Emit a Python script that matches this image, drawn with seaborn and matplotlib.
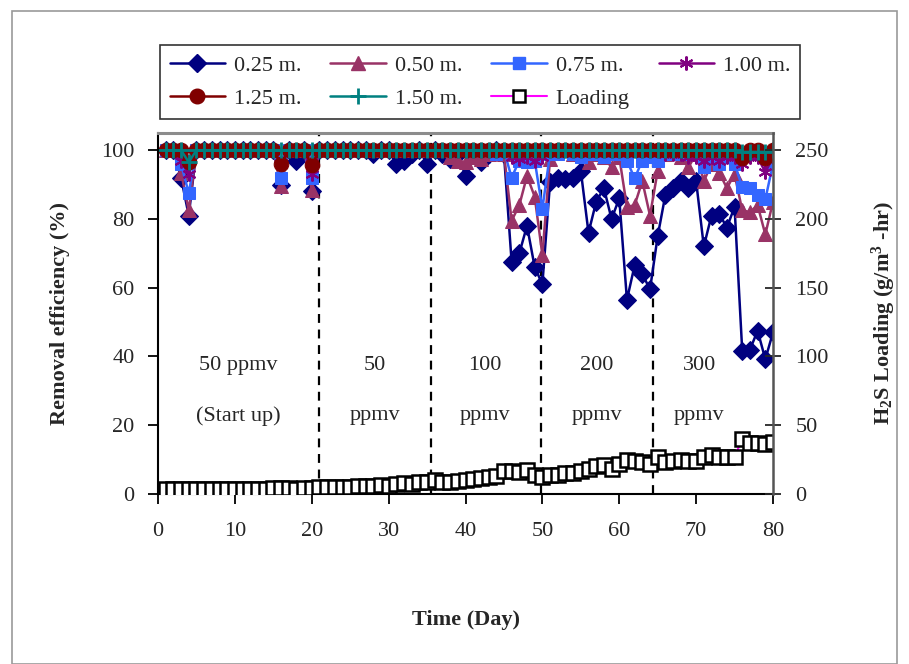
import numpy as np
import matplotlib
matplotlib.use("Agg")
import matplotlib.pyplot as plt
import seaborn as sns
from matplotlib.lines import Line2D
from matplotlib.patches import Rectangle

## DATA
days = np.arange(1, 81)

r025 = [100, 100, 92, 81, 100, 100, 100, 100, 100, 100,
        100, 100, 100, 100, 100, 90, 100, 97, 100, 88,
        100, 100, 100, 100, 100, 100, 100, 99, 100, 100,
        96, 97, 99, 100, 96, 100, 99, 97.5, 99, 92.5,
        99, 96.5, 99, 100, 99, 67.5, 70, 78, 66, 61,
        90.7, 92, 91.5, 92, 94, 76, 85, 89, 80, 86,
        56.5, 66.5, 64, 59.5, 75, 87, 89, 91, 89, 91,
        72, 81, 81.5, 77.5, 83.5, 41.5, 42, 47.5, 39.2, 47]
r050 = [100, 100, 93.5, 82.5, 100, 100, 100, 100, 100, 100,
        100, 100, 100, 100, 100, 89.5, 100, 100, 100, 88.5,
        100, 100, 100, 100, 100, 100, 100, 100, 100, 100,
        100, 100, 100, 100, 100, 100, 100, 98, 97, 96.5,
        98, 97.5, 99, 100, 99, 79.5, 84, 92.5, 86.5, 69.5,
        97.5, 100, 100, 99, 100, 96.5, 99, 98, 95, 98,
        83.5, 84, 91, 81, 94, 99, 100, 98, 95, 99,
        91, 96, 93.5, 89, 93, 82.5, 82, 84, 75.5, 85]
r075 = [100, 100, 96, 87.5, 100, 100, 100, 100, 100, 100,
        100, 100, 100, 100, 100, 92, 100, 100, 100, 92,
        100, 100, 100, 100, 100, 100, 100, 100, 100, 100,
        100, 100, 100, 100, 100, 100, 100, 100, 100, 100,
        100, 100, 100, 99, 100, 92, 97, 96.5, 97, 83,
        99, 99, 100, 99, 98, 99, 99, 98, 99, 99,
        97, 91.8, 97, 98, 97, 99, 99, 99, 99, 99,
        95, 98, 96, 98, 96, 89.3, 89, 87, 85.7, 96]
r100 = [100, 100, 97, 93, 100, 100, 100, 100, 100, 100,
        100, 100, 100, 100, 100, 96, 100, 100, 100, 93,
        100, 100, 100, 100, 100, 100, 100, 100, 100, 100,
        100, 100, 100, 100, 100, 100, 100, 100, 100, 100,
        100, 100, 100, 100, 100, 98, 97.5, 98, 97, 98,
        100, 100, 100, 100, 100, 100, 100, 100, 100, 100,
        100, 100, 100, 100, 100, 99, 99, 99, 98, 98,
        97, 98, 97, 98, 98, 96, 98, 98, 93.6, 98]
r125 = [100, 100, 100, 96.5, 100, 100, 100, 100, 100, 100,
        100, 100, 100, 100, 100, 96, 100, 100, 100, 95.7,
        100, 100, 100, 100, 100, 100, 100, 100, 100, 100,
        100, 100, 100, 100, 100, 100, 100, 100, 100, 100,
        100, 100, 100, 100, 100, 100, 100, 100, 100, 100,
        100, 100, 100, 100, 100, 100, 100, 100, 100, 100,
        100, 100, 100, 100, 100, 100, 100, 100, 100, 100,
        100, 100, 100, 100, 100, 97.7, 100, 100, 97.7, 100]
r150 = [100, 100, 100, 96.5, 100, 100, 100, 100, 100, 100,
        100, 100, 100, 100, 100, 100, 100, 100, 100, 100,
        100, 100, 100, 100, 100, 100, 100, 100, 100, 100,
        100, 100, 100, 100, 100, 100, 100, 100, 100, 100,
        100, 100, 100, 100, 100, 100, 100, 100, 100, 100,
        100, 100, 100, 100, 100, 100, 100, 100, 100, 100,
        100, 100, 100, 100, 100, 100, 100, 100, 100, 100,
        100, 100, 100, 100, 100, 99.5, 99.5, 99.5, 99.5, 100]
loading = [3.5, 3.5, 3.5, 3.5, 3.5, 3.5, 3.6, 3.6, 3.7, 3.7,
           3.8, 3.6, 3.8, 3.9, 4.0, 4.0, 4.2, 3.8, 4.4, 4.6,
           5.0, 4.8, 5.0, 5.2, 5.4, 5.6, 6.0, 5.8, 6.2, 6.0,
           7.5, 8.0, 7.0, 8.5, 9.0, 10.5, 8.5, 9.0, 9.5, 10.5,
           11, 11.5, 12.5, 13, 16.5, 17, 16, 17.5, 14, 12.5,
           14, 14, 15, 15, 17, 18, 20, 21, 18, 22,
           25, 24, 23, 22, 27, 23, 24, 25, 24, 24,
           27, 28, 27, 27, 27, 40, 37, 37, 36, 37.5]

phase_bounds = [21, 35.5, 49.8, 64.4]
phase_top = ["50 ppmv", "50", "100", "200", "300"]
phase_bottom = ["(Start up)", "ppmv", "ppmv", "ppmv", "ppmv"]
phase_x = [10.4, 28.2, 42.5, 57.1, 70.4]

sns.set_style("ticks")
plt.rcParams["font.family"] = ["Liberation Serif", "DejaVu Serif"]
plt.rcParams["mathtext.fontset"] = "custom"
plt.rcParams["mathtext.rm"] = "Liberation Serif:bold"
plt.rcParams["mathtext.default"] = "rm"

fig = plt.figure(figsize=(9.09, 6.64), dpi=100)
ax = fig.add_axes([158/909, 1-494/664, (773-158)/909, (494-133)/664])

series = [
    ("0.25 m.", r025, "#000080", dict(marker="D", markersize=9)),
    ("0.50 m.", r050, "#993366", dict(marker="^", markersize=10.5)),
    ("0.75 m.", r075, "#3366FF", dict(marker="s", markersize=9)),
    ("1.00 m.", r100, "#800080", dict(marker=(6, 2, 0), markersize=10, markeredgewidth=1.5)),
    ("1.25 m.", r125, "#800000", dict(marker="o", markersize=10.5)),
    ("1.50 m.", r150, "#008080", dict(marker="+", markersize=11, markeredgewidth=2)),
]
handles = {}
for name, vals, col, mk in series:
    sns.lineplot(x=days, y=vals, ax=ax, color=col, lw=1.8, markeredgecolor=col,
                 markerfacecolor=col, **mk)
    handles[name] = Line2D([], [], color=col, lw=1.8, markeredgecolor=col,
                           markerfacecolor=col, **mk)

ax.vlines(phase_bounds, 0, 105, colors="black", linestyles=(0, (4, 3)), lw=1.6, zorder=1.5)
for x, t1, t2 in zip(phase_x, phase_top, phase_bottom):
    ax.text(x, 37.5, t1, ha="center", va="center", fontsize=16)
    ax.text(x, 22.7, t2, ha="center", va="center", fontsize=16)

ax.set_xlim(0, 80)
ax.set_ylim(0, 105)
ax.set_xticks(range(0, 81, 10))
ax.set_yticks(range(0, 101, 20))
ax.tick_params(axis="both", labelsize=16, length=7, width=1.3, direction="out", color="black")
ax.tick_params(axis="y", pad=10)
ax.tick_params(axis="x", pad=13)
ax.set_xlabel("Time (Day)", fontsize=16, fontweight="bold", labelpad=50)
ax.set_ylabel("Removal efficiency (%)", fontsize=16, fontweight="bold", labelpad=22)
for s in ["left", "bottom"]:
    ax.spines[s].set_color("black")
    ax.spines[s].set_linewidth(1.5)
ax.spines["top"].set_color("#8c8c8c")
ax.spines["top"].set_linewidth(2.2)
ax.spines["right"].set_visible(False)

ax2 = ax.twinx()
sns.lineplot(x=days, y=loading, ax=ax2, color="#FF00FF", lw=1.5, marker="s", markersize=10,
             markerfacecolor="white", markeredgecolor="black", markeredgewidth=1.8)
handles["Loading"] = Line2D([], [], color="#FF00FF", lw=1.5, marker="s", markersize=9,
                            markerfacecolor="white", markeredgecolor="black", markeredgewidth=1.8)
ax2.set_ylim(0, 262.5)
ax2.set_yticks(range(0, 251, 50))
ax2.tick_params(axis="y", labelsize=16, length=12, width=1.3, direction="inout", pad=10)
ax2.set_ylabel("H$_2$S Loading (g/m$^3$ -hr)", fontsize=16, fontweight="bold", labelpad=30)
for s in ["top", "left", "bottom"]:
    ax2.spines[s].set_visible(False)
ax2.spines["right"].set_color("#555555")
ax2.spines["right"].set_linewidth(1.8)

order = ["0.25 m.", "1.25 m.", "0.50 m.", "1.50 m.", "0.75 m.", "Loading", "1.00 m."]
leg = fig.legend([handles[k] for k in order], order, ncol=4, loc="center",
                 bbox_to_anchor=(480/909, 1-82/664), fontsize=16, frameon=True,
                 fancybox=False, edgecolor="black", handlelength=2.5, handletextpad=0.4,
                 columnspacing=1.3, labelspacing=0.55, borderpad=0.45)
leg.get_frame().set_linewidth(1.2)

fig.patches.append(Rectangle((12/909, 0), (897-12)/909, 1-11/664, transform=fig.transFigure,
                             fill=False, edgecolor="#999999", lw=1.2))

fig.savefig("out.png", dpi=100)
